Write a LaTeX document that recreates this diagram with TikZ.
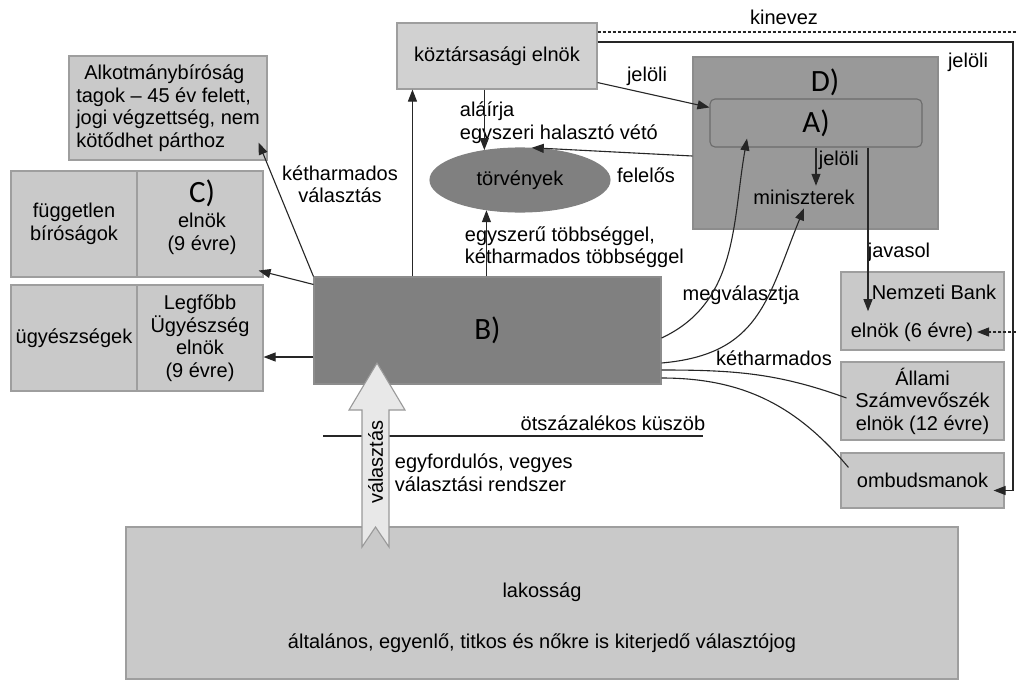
\documentclass[tikz,border=0pt]{standalone}
\usepackage{fontspec}
\setmainfont{Liberation Sans}
\newfontfamily\abc{Carlito}
\usetikzlibrary{arrows.meta,shapes.geometric}

\begin{document}
\begin{tikzpicture}[x=1pt,y=-1pt,>={Triangle[length=12pt,width=9pt]},line width=1.1pt,
 font=\fontsize{20}{22.5}\selectfont,
 lbox/.style={draw=black!38,fill=black!21,inner sep=0pt},
 dbox/.style={draw=black!45,fill=black!40,inner sep=0pt},
 big/.style={font=\abc\fontsize{31}{31}\selectfont},
 conn/.style={draw=black!85}]
 \path[use as bounding box,fill=white] (0,0) rectangle (1016,680);

 \node[lbox,minimum width=832pt,minimum height=152pt] (lak) at (542,603) {};
 \node (lak1) at (542,592) {lakosság};
 \node (lak2) at (542,643) {általános, egyenlő, titkos és nőkre is kiterjedő választójog};

 \node[lbox,fill=black!18,minimum width=200pt,minimum height=66pt] (ke) at (497,56) {köztársasági elnök};
 \node[lbox,minimum width=198pt,minimum height=104pt,align=left] (ab) at (168,108)
 {\hspace*{8pt}Alkotmánybíróság\\tagok – 45 év felett,\\jogi végzettség, nem\\kötődhet párthoz};
 \node[lbox,minimum width=126pt,minimum height=106pt,align=center] (fb1) at (74,224) {független\\bíróságok};
 \node[lbox,minimum width=126pt,minimum height=106pt] (fb2) at (200,224) {};
 \node[big] (fbc) at (202,193) {C)};
 \node[align=center] (fbe) at (202,234) {elnök\\(9 évre)};
 \node[lbox,minimum width=126pt,minimum height=106pt] (ug1) at (74,338) {ügyészségek};
 \node[lbox,minimum width=126pt,minimum height=106pt,align=center] (ug2) at (200,338)
 {Legfőbb\\Ügyészség\\elnök\\(9 évre)};

 \node[dbox,minimum width=245pt,minimum height=172pt] (D) at (815.5,143) {};
 \node[big] (Dl) at (825,82) {D)};
 \node[dbox,draw=black!58,rounded corners=5pt,minimum width=212pt,minimum height=48pt,big] (A) at (816,123) {A)};
 \node (min) at (804,197) {miniszterek};
 \node[ellipse,draw=black!50,fill=black!50,minimum width=180pt,minimum height=64pt,inner sep=0pt] (tv) at (520,180) {törvények};

 \node[lbox,minimum width=163pt,minimum height=78pt] (nb) at (922.5,311) {};
 \node (nbt) at (934,292) {Nemzeti Bank};
 \node (nbe) at (912,332) {elnök (6 évre)};
 \node[lbox,minimum width=163pt,minimum height=78pt,align=center] (asz) at (922.5,401)
 {Állami\\Számvevőszék\\elnök (12 évre)};
 \node[lbox,minimum width=163pt,minimum height=55pt] (om) at (922.5,480.5) {ombudsmanok};

 \node[draw=black!45,fill=black!50,minimum width=347pt,minimum height=107pt,big] (B) at (487.5,330.5) {B)};

 \draw[conn] (323,436) -- (703,436);
 \node (kuszob) at (613,423) {ötszázalékos küszöb};
 \draw[draw=black!40,fill=black!9] (377,363) -- (405,410) -- (389,410) -- (389,547) -- (375.5,527)
 -- (362,547) -- (362,410) -- (349,410) -- cycle;
 \node[rotate=90] (val) at (375.5,462) {választás};

 \node (kin) at (784,17) {kinevez};
 \node (jel1) at (647,76) {jelöli};
 \node (jel2) at (968,62) {jelöli};
 \node[anchor=west] (jel3) at (815,160) {jelöli};
 \node[align=left,anchor=west] (alair) at (456,122.5) {aláírja\\egyszeri halasztó vétó};
 \node (fel) at (646,175) {felelős};
 \node[align=center] (ketv) at (340,184) {kétharmados\\választás};
 \node[align=left,anchor=west] (egysz) at (461,247) {egyszerű többséggel,\\kétharmados többséggel};
 \node (megv) at (741,295) {megválasztja};
 \node (keth) at (774,358) {kétharmados};
 \node[anchor=west] (jav) at (864,252) {javasol};
 \node[align=left,anchor=west] (egyf) at (391,472.5) {egyfordulós, vegyes\\választási rendszer};

 \path[->,black!85]
 ([xshift=16pt]ke.south west |- B.north) edge ([xshift=16pt]ke.south west)
 (tv.140 |- ke.south) edge (tv.140)
 (tv.222 |- B.north) edge (tv.222)
 ([yshift=-13pt]D.west) edge (tv.70)
 ([yshift=7pt]ke.south east) edge ([yshift=-9pt]A.north west)
 (A.south) edge (A.south |- min.north)
 ([xshift=52pt]A.south) edge ([xshift=-66pt,yshift=-8pt]nbt.south)
 ([yshift=-8pt]B.north west) edge ([xshift=-5pt,yshift=7pt]fb2.south east)
 (B.north west) edge ([xshift=-9pt,yshift=18pt]ab.south east)
 ([yshift=-26.5pt]B.west) edge ([yshift=-26.5pt]B.west -| ug2.east)
 ([yshift=-7.5pt]B.east) edge[out=25,in=-100] ([xshift=-69pt,yshift=9pt]A.south)
 ([yshift=-32.5pt]B.east) edge[out=5,in=-112,looseness=1.2] (min.south);
 \draw[conn] ([yshift=-39.5pt]B.east) to[out=0,in=160] ([xshift=6pt,yshift=3pt]asz.west);
 \draw[conn] ([yshift=-47.5pt]B.east) to[out=0,in=130] ([xshift=8pt,yshift=-15pt]om.north west);

 \coordinate (kr) at (1022,32);
 \coordinate (jr) at (1013,42);
 \draw[->,conn,dash pattern=on 3pt off 2pt] ([yshift=24pt]ke.east) -- (kr) |- (nbe.east);
 \draw[->,conn] ([yshift=14pt]ke.east) -- (jr) |- ([xshift=-11pt,yshift=-10pt]om.east);
\end{tikzpicture}
\end{document}
